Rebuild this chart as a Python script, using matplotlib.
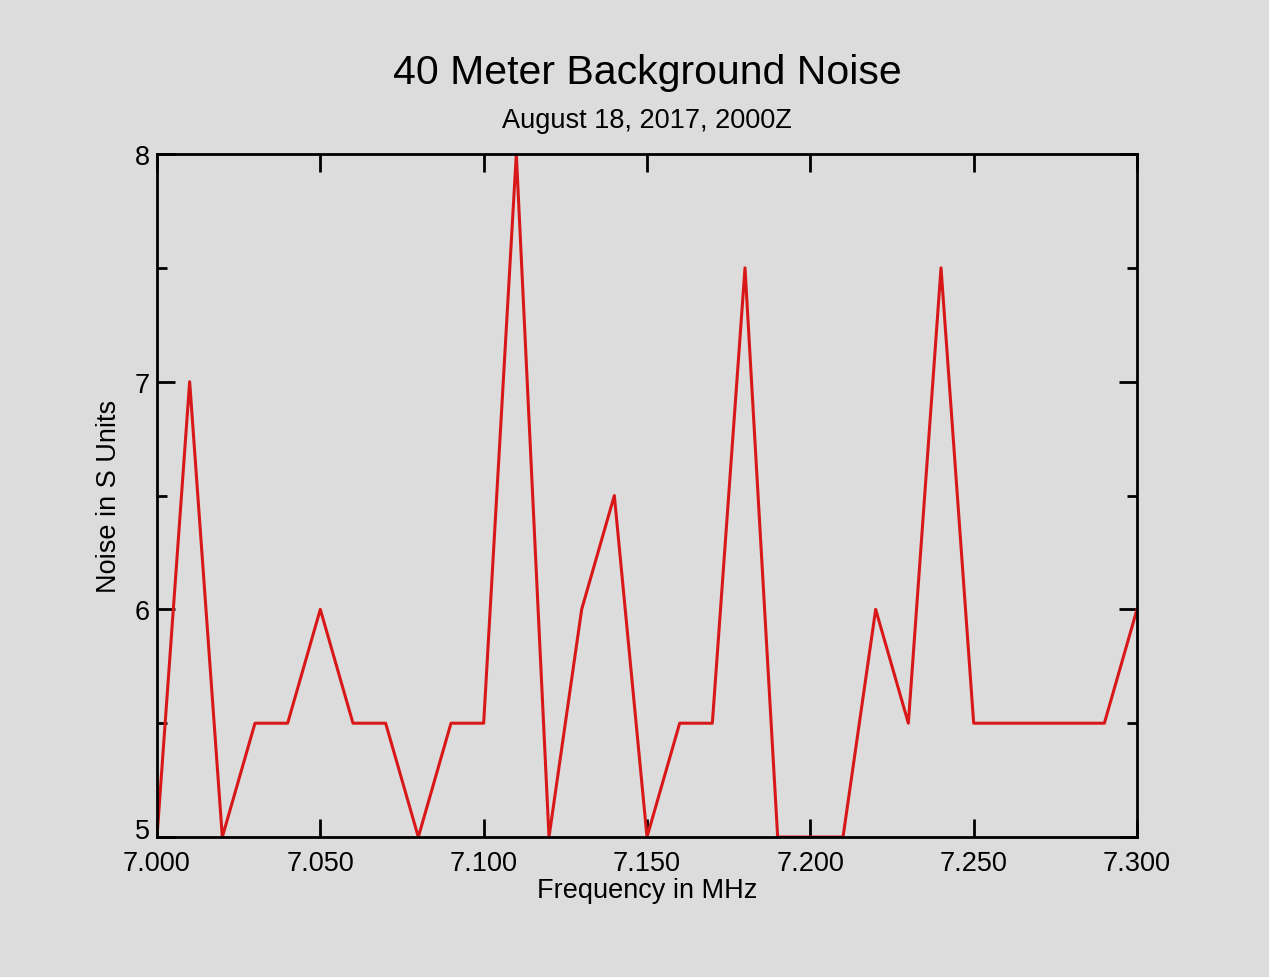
import numpy as np
import matplotlib.pyplot as plt
from matplotlib.ticker import MultipleLocator, FormatStrFormatter, FuncFormatter

# 40 m band noise survey, one reading every 10 kHz
freq = [7.00, 7.01, 7.02, 7.03, 7.04, 7.05, 7.06, 7.07, 7.08, 7.09, 7.10,
        7.11, 7.12, 7.13, 7.14, 7.15, 7.16, 7.17, 7.18, 7.19, 7.20,
        7.21, 7.22, 7.23, 7.24, 7.25, 7.26, 7.27, 7.28, 7.29, 7.30]
noise = [5, 7, 5, 5.5, 5.5, 6, 5.5, 5.5, 5, 5.5, 5.5,
         8, 5, 6, 6.5, 5, 5.5, 5.5, 7.5, 5, 5,
         5, 6, 5.5, 7.5, 5.5, 5.5, 5.5, 5.5, 5.5, 6]

plt.rcParams['font.family'] = ['Liberation Sans', 'DejaVu Sans']
bg = "#dcdcdc"

fig = plt.figure(figsize=(12.69, 9.78), dpi=100, facecolor=bg)
ax = fig.add_axes([0.1237, 0.1431, 0.7723, 0.6984])
ax.set_facecolor(bg)

ax.plot(freq, noise, color="#d81818", linewidth=2.2)

ax.set_xlim(7.0, 7.3)
ax.set_ylim(5, 8)
ax.xaxis.set_major_locator(MultipleLocator(0.05))
ax.xaxis.set_major_formatter(FormatStrFormatter("%.3f"))
ax.yaxis.set_major_locator(MultipleLocator(1))
ax.yaxis.set_minor_locator(MultipleLocator(0.5))
# bottom label is drawn by hand below, slightly lifted off the x labels
ax.yaxis.set_major_formatter(FuncFormatter(lambda v, p: "" if v <= 5 else "%d" % v))

for s in ax.spines.values():
    s.set_linewidth(2)
    s.set_color("black")
ax.tick_params(which="both", direction="in", top=True, right=True,
               width=2, labelsize=19.5)
ax.tick_params(which="major", length=13)
ax.tick_params(which="minor", length=7)
ax.tick_params(axis="x", pad=9)
ax.tick_params(axis="y", pad=5)

ax.annotate("5", xy=(0, 5), xycoords=("axes fraction", "data"),
            xytext=(-5, 4), textcoords="offset points",
            ha="right", va="center", fontsize=19.5)

ax.set_xlabel("Frequency in MHz", fontsize=19.5, labelpad=1)
ax.set_ylabel("Noise in S Units", fontsize=19.5, labelpad=9)

# title block centred over the plot area
xc = 0.1237 + 0.7723 / 2
fig.text(xc, 0.925, "40 Meter Background Noise", ha="center", va="center", fontsize=29.5)
fig.text(xc, 0.876, "August 18, 2017, 2000Z", ha="center", va="center", fontsize=19.5)

fig.savefig("out.png", dpi=100, facecolor=bg)
